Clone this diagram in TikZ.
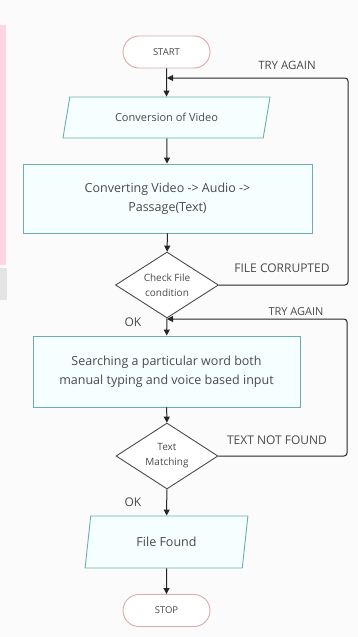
\documentclass[tikz,border=0pt]{standalone}
\usepackage{fontspec}
\setmainfont{Open Sans}
\usetikzlibrary{shapes.geometric,arrows.meta}
\definecolor{txt}{HTML}{4A4A4A}
\definecolor{teal}{HTML}{6AAFAF}
\definecolor{cyanfill}{HTML}{F6FFFF}
\definecolor{termline}{HTML}{E0A8A8}
\definecolor{bg}{HTML}{FBFBFB}
\definecolor{pinkstrip}{HTML}{FFD5E4}
\definecolor{graystrip}{HTML}{E4E4E4}
\begin{document}
\begin{tikzpicture}[x=1pt,y=-1pt,
  every node/.style={text=txt},
  term/.style={draw=termline, line width=0.9pt, fill=white, rounded corners=16pt, minimum width=87pt, minimum height=32pt, inner sep=0pt, font=\fontsize{9.5}{11}\selectfont},
  iobox/.style={trapezium, trapezium stretches=true, trapezium left angle=67, trapezium right angle=113, draw=teal, line width=0.9pt, fill=cyanfill, inner sep=0pt},
  procbox/.style={draw=teal, line width=0.9pt, fill=cyanfill, inner sep=0pt, align=center, font=\fontsize{12.5}{19}\selectfont},
  decision/.style={diamond, aspect=1.56, draw=black!70, line width=0.9pt, fill=white, inner sep=0pt, align=center, font=\fontsize{10}{15}\selectfont},
  flow/.style={draw=black!85, line width=1pt, -{Triangle[length=6pt,width=6pt]}},
  loopline/.style={draw=black!85, line width=1pt, rounded corners=3pt, -{Triangle[length=6pt,width=6pt]}},
  lbl/.style={font=\fontsize{12}{14}\selectfont, inner sep=0pt}
]
\useasboundingbox (0,0) rectangle (358,637);
\fill[bg] (0,0) rectangle (358,637);
\fill[pinkstrip] (0,25) rectangle (6,265);
\fill[graystrip] (0,268) rectangle (7,300);

\node[term] (start) at (166.5,52) {START};
\node[iobox, minimum width=207pt, minimum height=41pt, font=\fontsize{11}{13}\selectfont] (conv) at (166.5,117.5) {Conversion of Video};
\node[procbox, minimum width=289pt, minimum height=69pt] (proc1) at (167.5,198.5) {Converting Video -> Audio ->\\Passage(Text)};
\node[decision, minimum width=103pt, minimum height=66pt] (check) at (167,285) {Check File\\condition};
\node[procbox, minimum width=267pt, minimum height=71pt] (proc2) at (166.5,371.5) {Searching a particular word both\\manual typing and voice based input};
\node[decision, minimum width=102pt, minimum height=66pt] (match) at (167,456) {Text\\Matching};
\node[iobox, trapezium left angle=77, trapezium right angle=103, minimum width=163pt, minimum height=52pt, font=\fontsize{12.5}{15}\selectfont] (found) at (166.5,542) {File Found};
\node[term] (stop) at (166.5,610.5) {STOP};

\coordinate (j1) at (167,78);
\coordinate (j2) at (167,319);
\coordinate (c1) at (348,285);
\coordinate (c2) at (348,78);
\coordinate (c3) at (347,456);
\coordinate (c4) at (347,319);

\draw[flow] (start) -- (conv);
\draw[flow] (conv) -- (proc1);
\draw[flow] (proc1) -- (check);
\draw[flow] (check) -- (proc2);
\draw[flow] (proc2) -- (match);
\draw[flow] (match) -- (found);
\draw[flow] (found) -- (stop);
\draw[loopline] (check.east) -- (c1) -- (c2) -- (j1);
\draw[loopline] (match.east) -- (c3) -- (c4) -- (j2);

\node[lbl, font=\fontsize{11.5}{14}\selectfont] (l1) at (287,65) {TRY AGAIN};
\node[lbl] (l2) at (282,268) {FILE CORRUPTED};
\node[lbl, font=\fontsize{11}{14}\selectfont] (l3) at (296,312) {TRY AGAIN};
\node[lbl] (l4) at (277,440) {TEXT NOT FOUND};
\node[lbl] (ok1) at (133,322) {OK};
\node[lbl] (ok2) at (133,502) {OK};
\end{tikzpicture}
\end{document}
